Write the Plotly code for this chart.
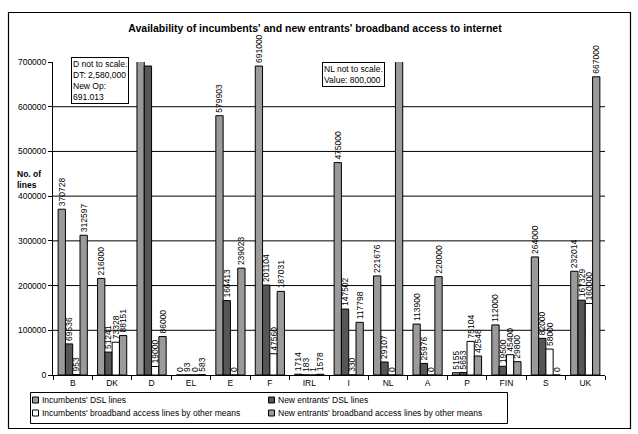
import plotly.graph_objects as go

# Countries (EU member states) on the category axis
countries = ["B", "DK", "D", "EL", "E", "F", "IRL", "I", "NL", "A", "P", "FIN", "S", "UK"]

# Number of lines per series
incumbent_dsl = [370728, 216000, 2580000, 0, 579903, 691000, 1714, 475000, 221676, 113900, 5155, 112000, 264000, 232014]
entrant_dsl = [69536, 51241, 691013, 93, 166413, 201104, 183, 147502, 29107, 25976, 5653, 19500, 82000, 167329]
incumbent_other = [953, 73328, 19000, 0, 0, 47560, 1, 330, 0, 0, 75104, 45400, 58000, 160000]
entrant_other = [312597, 88151, 86000, 583, 239023, 187031, 1578, 117798, 800000, 220000, 42548, 29800, 0, 667000]

series_names = [
    "Incumbents' DSL lines",
    "New entrants' DSL lines",
    "Incumbents' broadband access lines by other means",
    "New entrants' broadband access lines by other means",
]
series_values = [incumbent_dsl, entrant_dsl, incumbent_other, entrant_other]
series_colors = ["#9a9a9a", "#565656", "#ffffff", "#9a9a9a"]

# Bars drawn beyond the axis range carry no value label
unlabelled = {(0, "D"), (1, "D"), (3, "NL")}

y_max = 700000
y_ticks = [0, 100000, 200000, 300000, 400000, 500000, 600000, 700000]
grid_vals = [100000, 200000, 300000, 400000, 500000, 600000]

W, H = 638, 434
L, T, R, B = 53, 62, 605, 375
PW, PH = R - L, B - T


def px_x(x):
    return (x - L) / PW


def px_y(y):
    return (B - y) / PH


FONT = "Liberation Sans, Arial, sans-serif"

fig = go.Figure()
for i, (name, vals, col) in enumerate(zip(series_names, series_values, series_colors)):
    labels = ["" if (i, c) in unlabelled else str(v) for c, v in zip(countries, vals)]
    fig.add_trace(go.Bar(
        x=countries, y=vals, name=name,
        marker=dict(color=col, line=dict(color="black", width=1)),
        text=labels, textposition="outside", textangle=-90,
        textfont=dict(family=FONT, size=8.5, color="black"),
        constraintext="none", cliponaxis=False, showlegend=False,
    ))

shapes = []
# horizontal gridlines
for g in grid_vals:
    shapes.append(dict(type="line", xref="paper", yref="y", x0=0, x1=1, y0=g, y1=g,
                       line=dict(color="black", width=1), layer="below"))
# outer frame
shapes.append(dict(type="rect", xref="paper", yref="paper",
                   x0=px_x(8.5), x1=px_x(630.5), y0=px_y(428.5), y1=px_y(12.5),
                   line=dict(color="black", width=1.2), fillcolor="rgba(0,0,0,0)", layer="below"))

annotations = []
# legend frame and entries
shapes.append(dict(type="rect", xref="paper", yref="paper",
                   x0=px_x(30.5), x1=px_x(507.5), y0=px_y(423.5), y1=px_y(392.5),
                   line=dict(color="black", width=1), fillcolor="white"))
leg_pos = [(32, 400), (268, 400), (32, 413), (268, 413)]
for (lx, ly), name, col in zip(leg_pos, series_names, series_colors):
    shapes.append(dict(type="rect", xref="paper", yref="paper",
                       x0=px_x(lx + 0.5), x1=px_x(lx + 6.5), y0=px_y(ly + 3), y1=px_y(ly - 3),
                       line=dict(color="black", width=1), fillcolor=col))
    annotations.append(dict(x=px_x(lx + 8), y=px_y(ly), xref="paper", yref="paper",
                            text=name, showarrow=False, xanchor="left", yanchor="middle",
                            font=dict(family=FONT, size=8.5, color="black")))

# notes for the bars that exceed the scale
annotations.append(dict(x=px_x(71), y=px_y(57), xref="paper", yref="paper",
                        text="D not to scale.<br>DT: 2,580,000<br>New Op:<br>691.013",
                        showarrow=False, xanchor="left", yanchor="top", align="left",
                        bordercolor="black", borderwidth=1, borderpad=1, bgcolor="white",
                        font=dict(family=FONT, size=8.5, color="black")))
annotations.append(dict(x=px_x(322), y=px_y(62), xref="paper", yref="paper",
                        text="NL not to scale.<br>Value: 800,000",
                        showarrow=False, xanchor="left", yanchor="top", align="left",
                        bordercolor="black", borderwidth=1, borderpad=1, bgcolor="white",
                        font=dict(family=FONT, size=8.5, color="black")))
# y-axis caption
annotations.append(dict(x=px_x(15), y=px_y(179), xref="paper", yref="paper",
                        text="<b>No. of<br>lines</b>", showarrow=False,
                        xanchor="left", yanchor="middle", align="left",
                        font=dict(family=FONT, size=8.5, color="black")))

fig.update_layout(
    width=W, height=H,
    margin=dict(l=L, r=W - R, t=T, b=H - B),
    paper_bgcolor="white", plot_bgcolor="white",
    barmode="group", bargap=0.26, bargroupgap=0,
    title=dict(text="<b>Availability of incumbents' and new entrants' broadband access to internet</b>",
               x=315 / W, xanchor="center", y=1 - 28 / H, yanchor="middle",
               font=dict(family=FONT, size=10.5, color="black")),
    xaxis=dict(type="category", showline=True, linecolor="black", linewidth=1,
               ticks="outside", tickson="boundaries", ticklen=4, tickcolor="black",
               tickfont=dict(family=FONT, size=8.5, color="black"), showgrid=False),
    yaxis=dict(range=[0, y_max], tickvals=y_ticks, ticktext=[str(v) for v in y_ticks],
               showline=True, linecolor="black", linewidth=1, ticks="outside", ticklen=4,
               tickcolor="black", showgrid=False, zeroline=False,
               tickfont=dict(family=FONT, size=8.5, color="black")),
    shapes=shapes, annotations=annotations,
)

fig.write_html("out.html")
